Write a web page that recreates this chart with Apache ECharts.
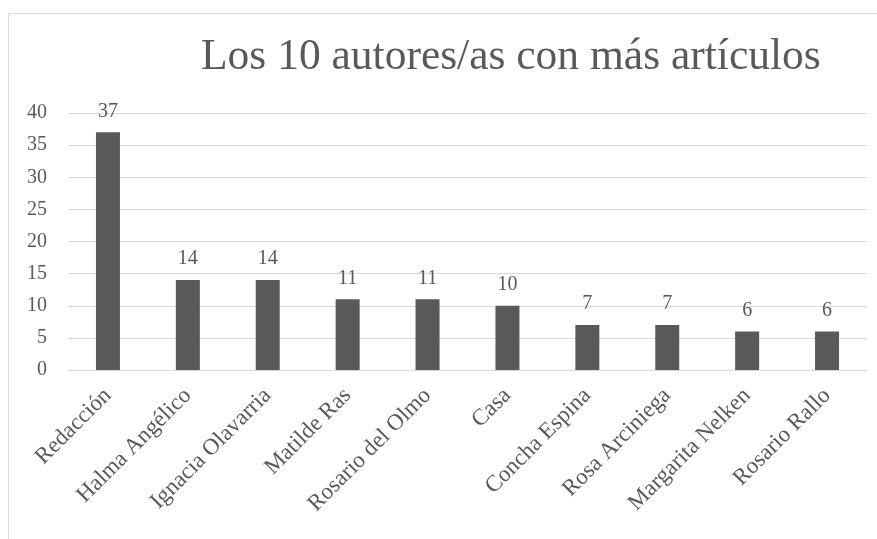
<!DOCTYPE html>
<html>
<head>
<meta charset="utf-8">
<script src="https://cdn.jsdelivr.net/npm/echarts@6/dist/echarts.min.js"></script>
<style>
html,body{margin:0;padding:0;background:#fff;}
#frame{position:absolute;left:8px;top:13px;width:880px;height:540px;border-left:1px solid #d9d9d9;border-top:1px solid #d9d9d9;box-sizing:border-box;}
#chart{position:absolute;left:0;top:0;width:877px;height:539px;}
</style>
</head>
<body>
<div id="frame"></div>
<div id="chart"></div>
<script>
const titleText = 'Los 10 autores/as con más artículos';
const categories = ['Redacción','Halma Angélico','Ignacia Olavarria','Matilde Ras','Rosario del Olmo','Casa','Concha Espina','Rosa Arciniega','Margarita Nelken','Rosario Rallo'];
const values = [37, 14, 14, 11, 11, 10, 7, 7, 6, 6];
const yTicks = [0, 5, 10, 15, 20, 25, 30, 35, 40];

const FONT = '"Liberation Serif", "DejaVu Serif", serif';
const TXT = '#595959';
const chart = echarts.init(document.getElementById('chart'), null, {renderer:'canvas'});
chart.setOption({
  backgroundColor: 'transparent',
  animation: false,
  title: {
    text: titleText,
    left: 201,
    top: 36,
    padding: 0,
    textStyle: {fontFamily: FONT, fontSize: 43.5, fontWeight: 'normal', color: TXT}
  },
  grid: {left: 68, right: 10, top: 113, bottom: 169, containLabel: false},
  xAxis: {
    type: 'category',
    data: categories,
    axisLine: {show: true, lineStyle: {color: '#d9d9d9', width: 1}},
    axisTick: {show: false},
    axisLabel: {rotate: 45, margin: 22, fontFamily: FONT, fontSize: 23, color: TXT, interval: 0}
  },
  yAxis: {
    type: 'value',
    min: yTicks[0],
    max: yTicks[yTicks.length - 1],
    interval: 5,
    axisLine: {show: false},
    axisTick: {show: false},
    splitLine: {lineStyle: {color: '#d9d9d9', width: 1}},
    axisLabel: {margin: 21, fontFamily: FONT, fontSize: 20, color: TXT}
  },
  series: [{
    type: 'bar',
    data: values,
    barWidth: 24,
    itemStyle: {color: '#595959'},
    label: {show: true, position: 'top', distance: 11, fontFamily: FONT, fontSize: 20, color: TXT}
  }]
});
</script>
</body>
</html>
